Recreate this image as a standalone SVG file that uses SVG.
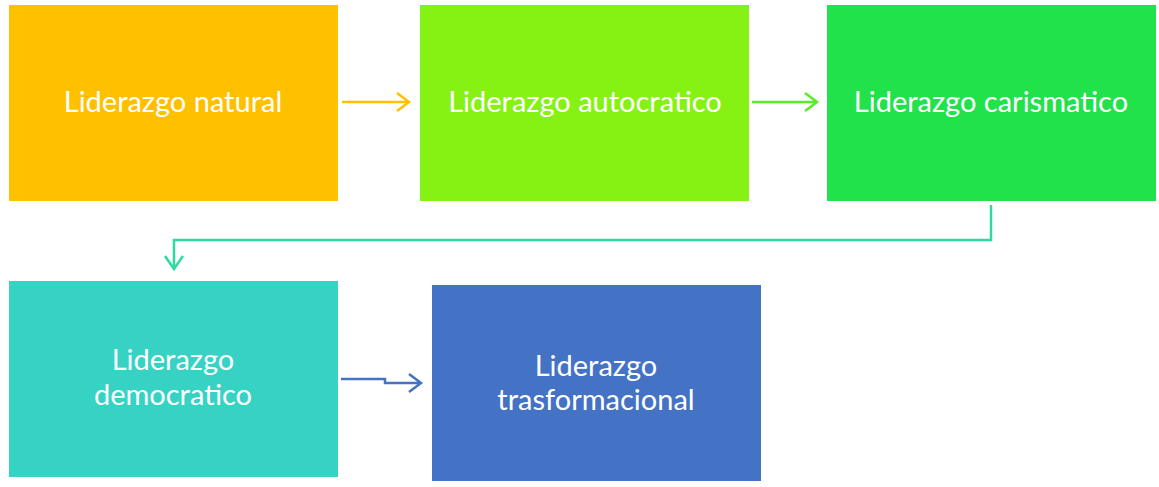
<svg xmlns="http://www.w3.org/2000/svg" width="1159" height="487" viewBox="0 0 1159 487">
<style>
text{font-family:Lato,"Open Sans",sans-serif;font-size:29px;fill:#fff;text-anchor:middle;dominant-baseline:central}
.c{fill:none;stroke-width:2.5}
</style>
<rect width="1159" height="487" fill="#fff"/>
<g id="n1"><rect x="9" y="5" width="329" height="196" fill="#FFC000"/><text x="173" y="100">Liderazgo natural</text></g>
<g id="n2"><rect x="420" y="5" width="329" height="196" fill="#86F213"/><text x="585" y="100">Liderazgo autocratico</text></g>
<g id="n3"><rect x="827" y="5" width="329" height="196" fill="#22E24B"/><text x="991" y="100">Liderazgo carismatico</text></g>
<g id="n4"><rect x="9" y="281" width="329" height="196" fill="#36D3C5"/><text x="173" y="358">Liderazgo</text><text x="173" y="393">democratico</text></g>
<g id="n5"><rect x="432" y="285" width="329" height="196" fill="#4472C4"/><text x="596" y="364">Liderazgo</text><text x="596" y="398">trasformacional</text></g>
<g id="connectors">
<path class="c" d="M342,102 H409 M397,93 L409,102 L397,111" stroke="#FFC000"/>
<path class="c" d="M752,102 H817 M805,93 L817,102 L805,111" stroke="#5BEB2D"/>
<path class="c" d="M991,205 V240 H174 V269 M165,256 L174,269 L183,256" stroke="#2FD9A0"/>
<path class="c" d="M341,379 H385 V383 H421 M409,374 L421,383 L409,392" stroke="#4472C4"/>
</g>
</svg>
